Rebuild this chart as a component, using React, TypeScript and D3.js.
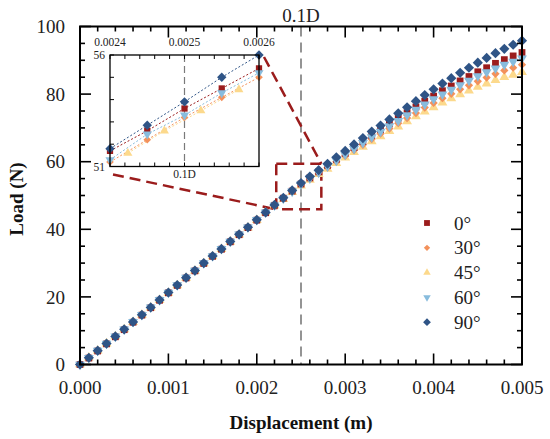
import { useEffect, useRef } from "react";
import * as d3 from "d3";

// displacement (m)
const DISP = [
  0, 0.0001, 0.0002, 0.0003, 0.0004, 0.0005, 0.0006, 0.0007, 0.0008, 0.0009,
  0.001, 0.0011, 0.0012, 0.0013, 0.0014, 0.0015, 0.0016, 0.0017, 0.0018, 0.0019,
  0.002, 0.0021, 0.0022, 0.0023, 0.0024, 0.0025, 0.0026, 0.0027, 0.0028, 0.0029,
  0.003, 0.0031, 0.0032, 0.0033, 0.0034, 0.0035, 0.0036, 0.0037, 0.0038, 0.0039,
  0.004, 0.0041, 0.0042, 0.0043, 0.0044, 0.0045, 0.0046, 0.0047, 0.0048, 0.0049, 0.005,
];

// load (N) per fibre angle
const LOAD_0 = [
  0, 1.9, 4.0, 6.1, 8.2, 10.3, 12.5, 14.6, 16.8, 19.0, 21.2, 23.4, 25.6, 27.7, 29.9, 32.0, 34.1, 36.3, 38.4, 40.5,
  42.7, 44.9, 47.1, 49.2, 51.3, 53.4, 55.2, 57.0, 58.9, 60.7, 62.5, 64.2, 66.0, 67.8, 69.5, 71.2, 72.9, 74.5, 76.2,
  77.9, 79.4, 81.0, 82.4, 83.9, 85.2, 86.6, 87.8, 89.1, 90.2, 91.3, 92.3,
];
const LOAD_30 = [
  0, 2.0, 4.1, 6.2, 8.3, 10.4, 12.5, 14.7, 16.8, 19.0, 21.2, 23.4, 25.6, 27.7, 29.9, 32.0, 34.1, 36.3, 38.4, 40.5,
  42.7, 44.9, 47.0, 49.0, 51.1, 53.1, 54.9, 56.6, 58.3, 60.0, 61.7, 63.4, 65.0, 66.7, 68.3, 69.8, 71.4, 72.9, 74.4,
  76.0, 77.4, 78.8, 80.1, 81.4, 82.6, 83.8, 84.9, 86.0, 87.0, 87.8, 88.7,
];
const LOAD_45 = [
  0, 2.0, 4.1, 6.2, 8.3, 10.4, 12.5, 14.7, 16.8, 19.0, 21.2, 23.4, 25.6, 27.7, 29.9, 32.0, 34.1, 36.3, 38.4, 40.5,
  42.7, 44.9, 47.0, 48.9, 51.0, 52.9, 54.6, 56.3, 57.9, 59.6, 61.2, 62.8, 64.4, 66.0, 67.5, 69.0, 70.4, 71.9, 73.4,
  74.8, 76.1, 77.5, 78.7, 79.9, 81.0, 82.1, 83.1, 84.1, 85.0, 85.7, 86.5,
];
const LOAD_60 = [
  0, 2.0, 4.1, 6.2, 8.3, 10.4, 12.6, 14.7, 16.9, 19.1, 21.3, 23.5, 25.7, 27.8, 30.0, 32.1, 34.2, 36.4, 38.5, 40.6,
  42.8, 45.0, 47.1, 49.1, 51.2, 53.3, 55.1, 56.8, 58.6, 60.3, 62.1, 63.8, 65.6, 67.3, 68.9, 70.5, 72.1, 73.8, 75.4,
  77.0, 78.5, 79.9, 81.3, 82.7, 84.0, 85.3, 86.5, 87.6, 88.7, 89.6, 90.6,
];
const LOAD_90 = [
  0, 2.0, 4.1, 6.2, 8.3, 10.4, 12.6, 14.7, 16.9, 19.1, 21.3, 23.5, 25.7, 27.8, 30.0, 32.1, 34.2, 36.4, 38.5, 40.6,
  42.8, 45.0, 47.2, 49.3, 51.5, 53.7, 55.6, 57.5, 59.4, 61.3, 63.2, 65.1, 67.0, 68.9, 70.7, 72.5, 74.3, 76.1, 77.9,
  79.7, 81.4, 83.1, 84.7, 86.3, 87.8, 89.3, 90.7, 92.1, 93.4, 94.6, 95.8,
];

// inset (zoomed) data
const INSET_X = [0.0024, 0.00245, 0.0025, 0.00255, 0.0026];
const INSET_X_45 = [0.002424, 0.002473, 0.002522, 0.002573];
const INSET_0 = [51.7, 52.6, 53.6, 54.5, 55.4];
const INSET_30 = [51.2, 52.2, 53.2, 54.1, 55.0];
const INSET_45 = [51.6, 52.6, 53.5, 54.45];
const INSET_60 = [51.3, 52.45, 53.3, 54.3, 55.2];
const INSET_90 = [51.8, 52.85, 53.9, 55.0, 56.0];

const REF_DISP = 0.0025; // 0.1D
const BOX = { x0: 0.00222, x1: 0.00273, y0: 45.9, y1: 59.4 };

const FONT = "'Liberation Serif', 'Times New Roman', serif";
const BOX_RED = "#9B1C1C";

interface Series { name: string; main: number[]; ix: number[]; iv: number[]; color: string; sym: d3.SymbolType; size: number; rot: number; leg: number }

const SERIES: Series[] = [
  { name: "0°",  main: LOAD_0,  ix: INSET_X,    iv: INSET_0,  color: "#9B1C1C", sym: d3.symbolSquare,   size: 46, rot: 0,   leg: 34 },
  { name: "30°", main: LOAD_30, ix: INSET_X,    iv: INSET_30, color: "#F3915B", sym: d3.symbolSquare,   size: 34, rot: 45,  leg: 20 },
  { name: "45°", main: LOAD_45, ix: INSET_X_45, iv: INSET_45, color: "#FCD98C", sym: d3.symbolTriangle, size: 42, rot: 0,   leg: 24 },
  { name: "60°", main: LOAD_60, ix: INSET_X,    iv: INSET_60, color: "#88BCDD", sym: d3.symbolTriangle, size: 42, rot: 180, leg: 24 },
  { name: "90°", main: LOAD_90, ix: INSET_X,    iv: INSET_90, color: "#2F5486", sym: d3.symbolSquare,   size: 52, rot: 45,  leg: 30 },
];
const DRAW_ORDER = ["45°", "30°", "0°", "60°", "90°"];

export default function App() {
  const ref = useRef<SVGSVGElement>(null);

  useEffect(() => {
    if (!ref.current) return;
    const W = 550, H = 439;
    const ML = 80, MR = 28, MT = 26.5, MB = 74.5;
    const svg = d3.select(ref.current);
    svg.selectAll("*").remove();
    svg.append("rect").attr("width", W).attr("height", H).attr("fill", "#fff");

    const x = d3.scaleLinear().domain([0, 0.005]).range([ML, W - MR]);
    const y = d3.scaleLinear().domain([0, 100]).range([H - MB, MT]);
    const [x0, x1] = x.range();
    const [y0, y1] = y.range();

    // 0.1D reference line
    svg.append("line")
      .attr("x1", x(REF_DISP)).attr("x2", x(REF_DISP)).attr("y1", y1).attr("y2", y0)
      .attr("stroke", "#7a7a7a").attr("stroke-width", 1.6).attr("stroke-dasharray", "10,6");
    svg.append("text").attr("x", x(REF_DISP)).attr("y", 22).attr("text-anchor", "middle")
      .attr("font-family", FONT).attr("font-size", 19).attr("fill", "#222").text("0.1D");

    // zoom box
    svg.append("rect")
      .attr("x", x(BOX.x0)).attr("y", y(BOX.y1))
      .attr("width", x(BOX.x1) - x(BOX.x0)).attr("height", y(BOX.y0) - y(BOX.y1))
      .attr("fill", "none").attr("stroke", BOX_RED).attr("stroke-width", 2.5).attr("stroke-dasharray", "11,6");

    // inset scales
    const xi = d3.scaleLinear().domain([0.0024, 0.0026]).range([110, 259]);
    const yi = d3.scaleLinear().domain([51, 56]).range([166.5, 55]);

    // connectors
    svg.append("line")
      .attr("x1", xi(0.0026) + 5).attr("y1", yi(56) + 2)
      .attr("x2", x(BOX.x1)).attr("y2", y(BOX.y1))
      .attr("stroke", BOX_RED).attr("stroke-width", 2.5).attr("stroke-dasharray", "11,6");
    svg.append("line")
      .attr("x1", xi(0.0024) + 3).attr("y1", yi(51) + 8)
      .attr("x2", x(BOX.x0)).attr("y2", y(BOX.y0))
      .attr("stroke", BOX_RED).attr("stroke-width", 2.5).attr("stroke-dasharray", "11,6");

    // main points
    const sym = (s: Series, size: number) => d3.symbol().type(s.sym).size(size)()!;
    DRAW_ORDER.forEach(nm => {
      const s = SERIES.find(d => d.name === nm)!;
      svg.append("g").selectAll("path").data(DISP)
        .join("path")
        .attr("d", sym(s, s.size))
        .attr("transform", (d, i) => `translate(${x(d)},${y(s.main[i])})rotate(${s.rot})`)
        .attr("fill", s.color);
    });

    // frame + ticks
    const tk = svg.append("g").attr("stroke", "#000").attr("stroke-width", 1.6);
    x.ticks(25).forEach(t => {
      const major = Math.abs(t * 1000 - Math.round(t * 1000)) < 1e-6;
      const L = major ? 11 : 5;
      tk.append("line").attr("x1", x(t)).attr("x2", x(t)).attr("y1", y0).attr("y2", y0 - L);
      tk.append("line").attr("x1", x(t)).attr("x2", x(t)).attr("y1", y1).attr("y2", y1 + L);
    });
    y.ticks(20).forEach(t => {
      const L = t % 20 === 0 ? 11 : 5;
      tk.append("line").attr("x1", x0).attr("x2", x0 + L).attr("y1", y(t)).attr("y2", y(t));
      tk.append("line").attr("x1", x1).attr("x2", x1 - L).attr("y1", y(t)).attr("y2", y(t));
    });
    svg.append("rect").attr("x", x0).attr("y", y1).attr("width", x1 - x0).attr("height", y0 - y1)
      .attr("fill", "none").attr("stroke", "#000").attr("stroke-width", 2);

    // tick labels
    x.ticks(5).forEach(t => {
      svg.append("text").attr("x", x(t)).attr("y", y0 + 29).attr("text-anchor", "middle")
        .attr("font-family", FONT).attr("font-size", 19).attr("fill", "#222").text(d3.format(".3f")(t));
    });
    y.ticks(5).forEach(t => {
      svg.append("text").attr("x", x0 - 15).attr("y", y(t)).attr("dy", "0.35em").attr("text-anchor", "end")
        .attr("font-family", FONT).attr("font-size", 19).attr("fill", "#222").text(String(t));
    });

    // axis titles
    svg.append("text").attr("x", (x0 + x1) / 2).attr("y", 429).attr("text-anchor", "middle")
      .attr("font-family", FONT).attr("font-size", 19).attr("font-weight", 700).attr("fill", "#111")
      .text("Displacement (m)");
    svg.append("text").attr("transform", "translate(23,199)rotate(-90)").attr("text-anchor", "middle")
      .attr("font-family", FONT).attr("font-size", 19).attr("font-weight", 700).attr("fill", "#111")
      .text("Load (N)");

    // legend
    SERIES.forEach((s, i) => {
      const ly = 223 + i * 24.8;
      svg.append("path").attr("d", sym(s, s.leg))
        .attr("transform", `translate(427,${ly})rotate(${s.rot})`).attr("fill", s.color);
      svg.append("text").attr("x", 454).attr("y", ly).attr("dy", "0.35em")
        .attr("font-family", FONT).attr("font-size", 19).attr("fill", "#222").text(s.name);
    });

    // ---- inset ----
    const [ix0, ix1] = xi.range();
    const [iy0, iy1] = yi.range();
    const ins = svg.append("g");
    ins.append("rect").attr("x", ix0).attr("y", iy1).attr("width", ix1 - ix0).attr("height", iy0 - iy1)
      .attr("fill", "#fff");
    ins.append("line").attr("x1", xi(REF_DISP)).attr("x2", xi(REF_DISP)).attr("y1", iy1).attr("y2", iy0)
      .attr("stroke", "#7a7a7a").attr("stroke-width", 1.2).attr("stroke-dasharray", "7,4");

    DRAW_ORDER.forEach(nm => {
      const s = SERIES.find(d => d.name === nm)!;
      const pts = s.ix.map((d, i) => [xi(d), yi(s.iv[i])] as [number, number]);
      ins.append("path").attr("d", d3.line()(pts)).attr("fill", "none")
        .attr("stroke", s.color).attr("stroke-width", 1).attr("stroke-dasharray", "2,2");
    });
    DRAW_ORDER.forEach(nm => {
      const s = SERIES.find(d => d.name === nm)!;
      ins.append("g").selectAll("path").data(s.ix).join("path")
        .attr("d", sym(s, s.size * 0.85))
        .attr("transform", (d, i) => `translate(${xi(d)},${yi(s.iv[i])})rotate(${s.rot})`)
        .attr("fill", s.color);
    });

    const itk = ins.append("g").attr("stroke", "#000").attr("stroke-width", 1);
    xi.ticks(10).forEach(t => {
      itk.append("line").attr("x1", xi(t)).attr("x2", xi(t)).attr("y1", iy1).attr("y2", iy1 + 4);
      itk.append("line").attr("x1", xi(t)).attr("x2", xi(t)).attr("y1", iy0).attr("y2", iy0 - 4);
    });
    yi.ticks(5).forEach(t => {
      itk.append("line").attr("x1", ix0).attr("x2", ix0 + 4).attr("y1", yi(t)).attr("y2", yi(t));
    });
    ins.append("rect").attr("x", ix0).attr("y", iy1).attr("width", ix1 - ix0).attr("height", iy0 - iy1)
      .attr("fill", "none").attr("stroke", "#000").attr("stroke-width", 1.3);

    xi.ticks(2).forEach(t => {
      ins.append("text").attr("x", xi(t)).attr("y", 46).attr("text-anchor", "middle")
        .attr("font-family", FONT).attr("font-size", 11.5).attr("fill", "#222").text(d3.format(".4f")(t));
    });
    [51, 56].forEach(t => {
      ins.append("text").attr("x", ix0 - 5).attr("y", yi(t)).attr("dy", "0.35em").attr("text-anchor", "end")
        .attr("font-family", FONT).attr("font-size", 11.5).attr("fill", "#222").text(String(t));
    });
    ins.append("text").attr("x", xi(REF_DISP)).attr("y", 178).attr("text-anchor", "middle")
      .attr("font-family", FONT).attr("font-size", 11.5).attr("fill", "#222").text("0.1D");
  }, []);

  return (
    <svg ref={ref} width={550} height={439}
      style={{ position: "absolute", left: 0, top: 0, display: "block" }} />
  );
}
